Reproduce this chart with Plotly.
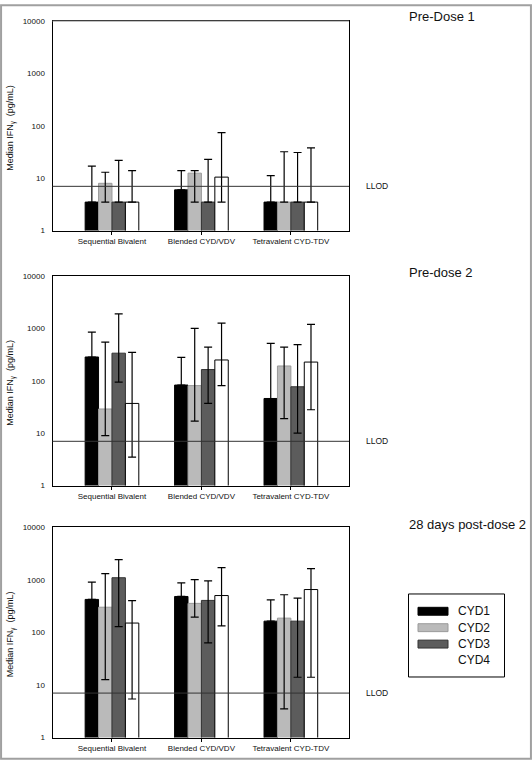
import plotly.graph_objects as go

# ---------------- data ----------------
categories = ["Sequential Bivalent", "Blended CYD/VDV", "Tetravalent CYD-TDV"]
series = ["CYD1", "CYD2", "CYD3", "CYD4"]
panel_titles = ["Pre-Dose 1", "Pre-dose 2", "28 days post-dose 2"]
tick_vals = [1, 10, 100, 1000, 10000]
tick_text = ["1", "10", "100", "1000", "10000"]
llod = 7

# Pre-Dose 1
p1_median = {"CYD1": [3.5, 6.0, 3.5], "CYD2": [8.0, 12.5, 3.5],
             "CYD3": [3.5, 3.5, 3.5], "CYD4": [3.5, 10.5, 3.5]}
p1_upper = {"CYD1": [17, 14, 11.2], "CYD2": [13, 14, 32],
            "CYD3": [22, 23, 31], "CYD4": [14, 74, 38]}
p1_lower = {"CYD1": [3.5, 6.0, 3.5], "CYD2": [3.5, 3.5, 3.5],
            "CYD3": [3.5, 3.5, 3.5], "CYD4": [3.5, 3.5, 3.5]}

# Pre-dose 2
p2_median = {"CYD1": [285, 83, 46], "CYD2": [29, 81, 192],
             "CYD3": [337, 164, 77], "CYD4": [37, 250, 228]}
p2_upper = {"CYD1": [850, 280, 520], "CYD2": [550, 1000, 440],
            "CYD3": [1900, 440, 490], "CYD4": [350, 1260, 1200]}
p2_lower = {"CYD1": [285, 83, 46], "CYD2": [9, 17, 19],
            "CYD3": [94, 37, 10], "CYD4": [3.5, 81, 28]}

# 28 days post-dose 2
p3_median = {"CYD1": [422, 480, 163], "CYD2": [300, 355, 186],
             "CYD3": [1090, 404, 163], "CYD4": [150, 500, 650]}
p3_upper = {"CYD1": [900, 870, 415], "CYD2": [1300, 1000, 518],
            "CYD3": [2400, 950, 447], "CYD4": [400, 1700, 1625]}
p3_lower = {"CYD1": [422, 480, 163], "CYD2": [12.6, 194, 3.5],
            "CYD3": [128, 63, 14], "CYD4": [5.4, 133, 14]}

panels = [(p1_median, p1_upper, p1_lower),
          (p2_median, p2_upper, p2_lower),
          (p3_median, p3_upper, p3_lower)]

# ---------------- styles ----------------
W, H = 532, 765
FONT = "Arial, Liberation Sans, sans-serif"
fill_colors = {"CYD1": "#000000", "CYD2": "#bababa", "CYD3": "#5c5c5c", "CYD4": "#ffffff"}
line_colors = {"CYD1": "#000000", "CYD2": "#9a9a9a", "CYD3": "#333333", "CYD4": "#000000"}


def px_x(x):
    return x / W


def px_y(y):
    return 1 - y / H


x_dom = [px_x(52.5), px_x(349)]
panel_px = [(17.3, 229.3), (275.3, 487.3), (529.3, 742.3)]
title_px = [13, 272, 527]

fig = go.Figure()
layout = dict(
    width=W, height=H,
    margin=dict(l=0, r=0, t=0, b=0),
    paper_bgcolor="white", plot_bgcolor="white",
    barmode="group", bargap=0.4, bargroupgap=0,
    showlegend=False,
    font=dict(family=FONT, color="#111111"),
)
shapes = []
annotations = []

for i, (med, up, lo) in enumerate(panels):
    n = "" if i == 0 else str(i + 1)
    xa, ya = "x" + n, "y" + n
    for s in series:
        m = med[s]
        plus = [u - v for u, v in zip(up[s], m)]
        minus = [v - l for v, l in zip(m, lo[s])]
        fig.add_trace(go.Bar(
            x=categories, y=m, name=s, xaxis=xa, yaxis=ya,
            marker=dict(color=fill_colors[s], line=dict(color=line_colors[s], width=1)),
            error_y=dict(type="data", symmetric=False, array=plus, arrayminus=minus,
                         color="#000000", thickness=1.2, width=4),
        ))
    top, bot = panel_px[i]
    layout["xaxis" + n] = dict(
        domain=x_dom, anchor=ya, type="category",
        range=[-0.665, 2.65],
        showline=True, mirror=True, linecolor="#000000", linewidth=1,
        ticks="outside", ticklen=3, tickcolor="#000000",
        tickfont=dict(size=8, family=FONT, color="#111111"),
        showgrid=False, zeroline=False, fixedrange=True,
    )
    layout["yaxis" + n] = dict(
        domain=[px_y(bot), px_y(top)], anchor=xa, type="log",
        range=[0, 4], tickvals=tick_vals, ticktext=tick_text,
        showline=True, mirror=True, linecolor="#000000", linewidth=1,
        ticks="", ticklabelstandoff=5,
        tickfont=dict(size=8, family=FONT, color="#111111"),
        showgrid=False, zeroline=False, fixedrange=True,
    )
    # LLOD reference line
    shapes.append(dict(type="line", xref=xa + " domain", yref=ya,
                       x0=0, x1=1, y0=llod, y1=llod,
                       line=dict(color="#333333", width=1)))
    annotations.append(dict(text="LLOD", xref="paper", yref=ya, x=px_x(364),
                            y=0.845, xanchor="left", yanchor="middle", showarrow=False,
                            font=dict(size=8.5, family=FONT, color="#111111")))
    # panel title
    annotations.append(dict(text=panel_titles[i], xref="paper", yref="paper",
                            x=px_x(407), y=px_y(title_px[i]), xanchor="left", yanchor="middle",
                            showarrow=False, font=dict(size=13, family=FONT, color="#111111")))
    # y-axis title
    annotations.append(dict(text="Median IFN<sub>γ</sub>  (pg/mL)", xref="paper", yref="paper",
                            x=px_x(11), y=px_y((top + bot) / 2 + 2), textangle=-90,
                            xanchor="center", yanchor="middle", showarrow=False,
                            font=dict(size=9, family=FONT, color="#111111")))

# grey top edge of first panel
shapes.append(dict(type="line", xref="paper", yref="paper",
                   x0=x_dom[0], x1=x_dom[1], y0=px_y(17.3), y1=px_y(17.3),
                   line=dict(color="#999999", width=1)))

# manual legend
shapes.append(dict(type="rect", xref="paper", yref="paper",
                   x0=px_x(408.5), x1=px_x(504.5), y0=px_y(681), y1=px_y(597),
                   line=dict(color="#000000", width=1), fillcolor="white"))
for k, s in enumerate(series):
    cy = 614.5 + 16.6 * k
    if s != "CYD4":
        shapes.append(dict(type="rect", xref="paper", yref="paper",
                           x0=px_x(418), x1=px_x(448), y0=px_y(cy + 4), y1=px_y(cy - 4),
                           line=dict(color=line_colors[s], width=1), fillcolor=fill_colors[s]))
    annotations.append(dict(text=s, xref="paper", yref="paper", x=px_x(456), y=px_y(cy),
                            xanchor="left", yanchor="middle", showarrow=False,
                            font=dict(size=12, family=FONT, color="#111111")))

# outer frame
shapes.append(dict(type="rect", xref="paper", yref="paper", x0=0.002, x1=0.998,
                   y0=0.0015, y1=0.9985, line=dict(color="#a0a0a0", width=2)))

layout["shapes"] = shapes
layout["annotations"] = annotations
fig.update_layout(**layout)
fig.write_html("out.html", config={"displayModeBar": False},
               post_script="document.body.style.margin='0';document.body.style.overflow='hidden';")
